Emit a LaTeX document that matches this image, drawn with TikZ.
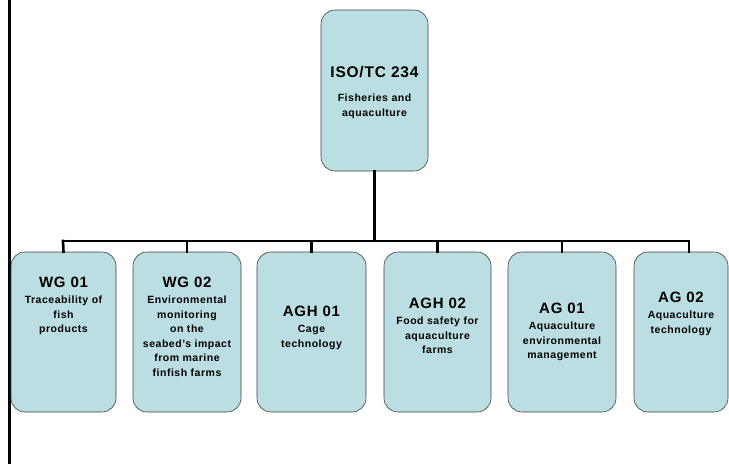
\documentclass[tikz,border=0pt]{standalone}
\usepackage{fontspec}
\setmainfont{Liberation Sans}[LetterSpace=5]
\definecolor{boxfill}{RGB}{186,222,226}
\begin{document}
\begin{tikzpicture}[x=1pt,y=-1pt,
  box/.style={draw=black!75, line width=0.6pt, fill=boxfill, rounded corners=14pt, inner sep=0pt},
  conn/.style={line width=2.6pt, line cap=rect},
  lbl/.style={anchor=north, inner sep=0pt, align=center, font={\bfseries\fontsize{10.5}{14.5}\selectfont}},
  ttl/.style={font={\bfseries\fontsize{14}{14}\selectfont}}]
\useasboundingbox (0,0) rectangle (729,464);
\fill[white] (0,0) rectangle (729,464);
% left rule
\draw[line width=3pt] (9.5,0) -- (9.5,464);
% boxes
\node[box, minimum width=107pt, minimum height=161pt] (top) at (374.5,90.5) {};
\node[box, minimum width=105pt, minimum height=160pt] (b1) at (63.5,332) {};
\node[box, minimum width=108pt, minimum height=160pt] (b2) at (187,332) {};
\node[box, minimum width=109pt, minimum height=160pt] (b3) at (311.5,332) {};
\node[box, minimum width=107pt, minimum height=160pt] (b4) at (437.5,332) {};
\node[box, minimum width=108pt, minimum height=160pt] (b5) at (562,332) {};
\node[box, minimum width=94pt, minimum height=160pt] (b6) at (681,332) {};
% connectors
\coordinate (barL) at (63,241);
\coordinate (barR) at (689,241);
\coordinate (b6top) at (689,252);
\draw[conn] (top.south) -- (top.south |- barL);
\draw[conn] (barL) -- (barR);
\draw[conn] (barL) -- (b1.north);
\draw[conn] (b2.north |- barL) -- (b2.north);
\draw[conn] (b3.north |- barL) -- (b3.north);
\draw[conn] (b4.north |- barL) -- (b4.north);
\draw[conn] (b5.north |- barL) -- (b5.north);
\draw[conn] (barR) -- (b6top);
% labels
\node[lbl] (ttop) at (374.5,66) {{\fontsize{15.5}{15.5}\selectfont ISO/TC 234}\\[10pt]Fisheries and\\aquaculture};
\node[lbl] (t1) at (63.5,277) {{\fontsize{15}{15}\selectfont WG 01}\\[1.5pt]Traceability of\\fish\\products};
\node[lbl] (t2) at (187,277) {{\fontsize{15}{15}\selectfont WG 02}\\[1.5pt]Environmental\\monitoring\\on the\\seabed's impact\\from marine\\finfish farms};
\node[lbl] (t3) at (311.5,306) {{\fontsize{15}{15}\selectfont AGH 01}\\[1.5pt]Cage\\technology};
\node[lbl] (t4) at (437.5,298) {{\fontsize{15}{15}\selectfont AGH 02}\\[1.5pt]Food safety for\\aquaculture\\farms};
\node[lbl] (t5) at (562,303) {{\fontsize{15}{15}\selectfont AG 01}\\[1.5pt]Aquaculture\\environmental\\management};
\node[lbl] (t6) at (681,292) {{\fontsize{15}{15}\selectfont AG 02}\\[1.5pt]Aquaculture\\technology};
\end{tikzpicture}
\end{document}
